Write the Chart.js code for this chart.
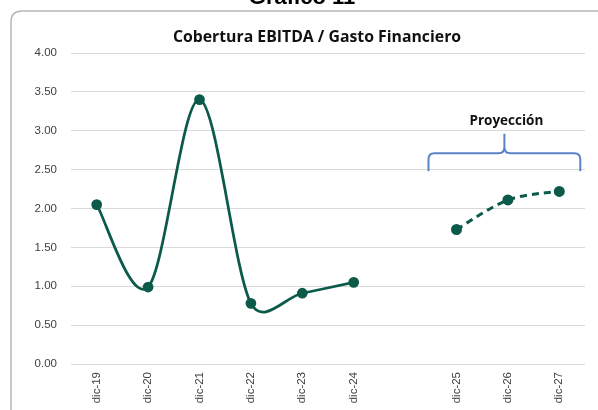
<!DOCTYPE html>
<html>
<head>
<meta charset="utf-8">
<script src="https://cdn.jsdelivr.net/npm/chart.js@4/dist/chart.umd.min.js"></script>
<style>
html,body{margin:0;padding:0;background:#fff;}
#wrap{position:relative;width:598px;height:410px;}
canvas{display:block;}
</style>
</head>
<body>
<div id="wrap"><canvas id="c" width="598" height="410"></canvas></div>
<script>
const categories = ['dic-19','dic-20','dic-21','dic-22','dic-23','dic-24','','dic-25','dic-26','dic-27'];
const historico  = [2.05, 0.99, 3.40, 0.78, 0.91, 1.05, null, null, null, null];
const proyeccion = [null, null, null, null, null, null, null, 1.73, 2.11, 2.22];
const yTicks = [0, 0.5, 1, 1.5, 2, 2.5, 3, 3.5, 4];
const chartTitle = 'Cobertura EBITDA / Gasto Financiero';
const outerTitle = 'Gráfico 11';
const bracketLabel = 'Proyección';

const GREEN = '#0c5a4a';

// Spreadsheet-style smoothing: Catmull-Rom control arms (1/6), each arm
// limited to half of the segment it belongs to; computed from the pixel
// positions Chart.js assigned to the points.
const smoothLines = {
  id: 'smoothLines',
  beforeDatasetDraw(chart, args) {
    const meta = args.meta;
    const line = meta.dataset;
    if (!line) return;
    line.updateControlPoints(chart.chartArea, 'x');
    const pts = meta.data;
    const ok = p => p && !p.skip && isFinite(p.y);
    const dist = (a, b) => Math.hypot(a.x - b.x, a.y - b.y);
    for (let i = 0; i < pts.length; i++) {
      const p = pts[i];
      if (!ok(p)) continue;
      const prev = ok(pts[i - 1]) ? pts[i - 1] : p;
      const next = ok(pts[i + 1]) ? pts[i + 1] : p;
      const dx = (next.x - prev.x) / 6, dy = (next.y - prev.y) / 6;
      const arm = Math.hypot(dx, dy) || 1;
      const s1 = Math.min(1, 0.5 * dist(prev, p) / arm);
      const s2 = Math.min(1, 0.5 * dist(p, next) / arm);
      p.cp1x = p.x - dx * s1; p.cp1y = p.y - dy * s1;
      p.cp2x = p.x + dx * s2; p.cp2y = p.y + dy * s2;
    }
    line._path = undefined;
  }
};

const decor = {
  id: 'decor',
  beforeDraw(chart) {
    const ctx = chart.ctx;
    ctx.save();
    ctx.strokeStyle = '#b8b8b8';
    ctx.lineWidth = 1.5;
    const x0 = 11, y0 = 11, r = 11;
    ctx.beginPath();
    ctx.moveTo(x0, 420);
    ctx.lineTo(x0, y0 + r);
    ctx.quadraticCurveTo(x0, y0, x0 + r, y0);
    ctx.lineTo(610, y0);
    ctx.stroke();
    ctx.fillStyle = '#000';
    ctx.font = 'bold 22px "Liberation Sans", Arial, sans-serif';
    ctx.textAlign = 'center';
    ctx.textBaseline = 'alphabetic';
    ctx.fillText(outerTitle, 302, 4);
    ctx.fillStyle = '#111';
    ctx.font = 'bold 15.8px "Open Sans", sans-serif';
    ctx.fillText(chartTitle, 317, 42);
    ctx.restore();
  },
  afterDatasetsDraw(chart) {
    const ctx = chart.ctx;
    const xs = chart.scales.x, ys = chart.scales.y;
    const left = xs.getPixelForValue(7) - 28;
    const right = xs.getPixelForValue(9) + 21;
    const mid = (left + right) / 2;
    const yEnd = ys.getPixelForValue(2.48);
    const yBar = ys.getPixelForValue(2.71);
    const yTip = ys.getPixelForValue(2.96);
    ctx.save();
    ctx.strokeStyle = '#5a82c6';
    ctx.lineWidth = 2;
    const c = 6;
    ctx.beginPath();
    ctx.moveTo(left, yEnd);
    ctx.lineTo(left, yBar + c);
    ctx.quadraticCurveTo(left, yBar, left + c, yBar);
    ctx.lineTo(mid - c, yBar);
    ctx.quadraticCurveTo(mid, yBar, mid, yBar - c);
    ctx.lineTo(mid, yTip);
    ctx.moveTo(mid, yBar - c);
    ctx.quadraticCurveTo(mid, yBar, mid + c, yBar);
    ctx.lineTo(right - c, yBar);
    ctx.quadraticCurveTo(right, yBar, right, yBar + c);
    ctx.lineTo(right, yEnd);
    ctx.stroke();
    ctx.fillStyle = '#111';
    ctx.font = 'bold 13.5px "Open Sans", sans-serif';
    ctx.textAlign = 'center';
    ctx.textBaseline = 'middle';
    ctx.fillText(bracketLabel, mid + 2, ys.getPixelForValue(3.12));
    ctx.restore();
  }
};

new Chart(document.getElementById('c'), {
  type: 'line',
  data: {
    labels: categories,
    datasets: [
      {
        data: historico,
        borderColor: GREEN,
        backgroundColor: GREEN,
        borderWidth: 2.75,
        tension: 0.4,
        pointRadius: 4,
        pointHoverRadius: 4,
        pointBackgroundColor: GREEN,
        pointBorderColor: GREEN,
        spanGaps: false
      },
      {
        data: proyeccion,
        borderColor: GREEN,
        backgroundColor: GREEN,
        borderWidth: 3,
        borderDash: [7, 5],
        tension: 0.4,
        pointRadius: 4,
        pointHoverRadius: 4,
        pointBackgroundColor: GREEN,
        pointBorderColor: GREEN,
        spanGaps: false
      }
    ]
  },
  options: {
    responsive: false,
    animation: false,
    devicePixelRatio: 1,
    layout: { padding: { left: 0, right: 13, top: 53, bottom: 0 } },
    plugins: {
      legend: { display: false },
      title: { display: false },
      tooltip: { enabled: false }
    },
    scales: {
      x: {
        offset: true,
        grid: { display: false, drawTicks: false },
        border: { display: false },
        ticks: {
          color: '#404040',
          font: { family: '"Liberation Sans", Arial, sans-serif', size: 11.5 },
          minRotation: 90,
          maxRotation: 90,
          padding: 8,
          autoSkip: false
        },
        afterFit(s) { s.height = 46; }
      },
      y: {
        min: 0,
        max: 4,
        afterBuildTicks(s) { s.ticks = yTicks.map(v => ({ value: v })); },
        grid: { color: '#d9d9d9', lineWidth: 1, drawTicks: false },
        border: { display: false },
        ticks: {
          color: '#404040',
          font: { family: '"Liberation Sans", Arial, sans-serif', size: 11.5 },
          padding: 14,
          callback: v => Number(v).toFixed(2)
        },
        afterFit(s) { s.width = 71; }
      }
    }
  },
  plugins: [smoothLines, decor]
});
</script>
</body>
</html>
